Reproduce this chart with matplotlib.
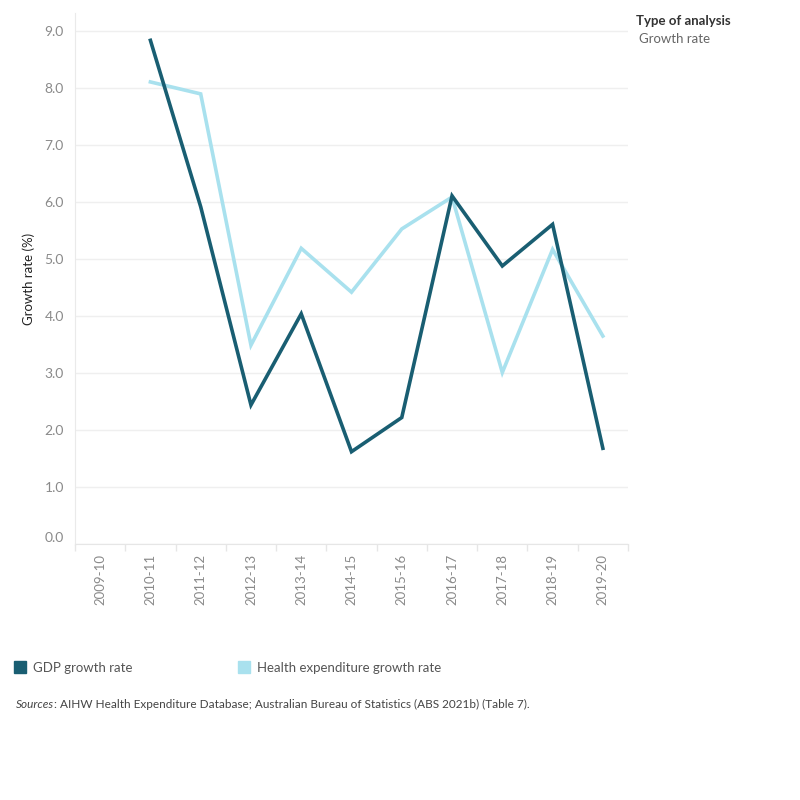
import numpy as np
import matplotlib
matplotlib.use('Agg')
import matplotlib.pyplot as plt
from matplotlib.patches import Rectangle

plt.rcParams['font.family'] = ['Lato', 'DejaVu Sans']

years = ['2009-10', '2010-11', '2011-12', '2012-13', '2013-14', '2014-15',
         '2015-16', '2016-17', '2017-18', '2018-19', '2019-20']
# first year has no growth rate
gdp_growth = [np.nan, 8.84, 5.92, 2.44, 4.04, 1.62, 2.22, 6.11, 4.88, 5.61, 1.68]
health_growth = [np.nan, 8.11, 7.90, 3.49, 5.19, 4.42, 5.53, 6.09, 3.01, 5.17, 3.65]
yticks = [0, 1, 2, 3, 4, 5, 6, 7, 8, 9]

gdp_col = '#195e72'
health_col = '#a9e1ee'
tick_col = '#8a8a8a'

fig = plt.figure(figsize=[8, 8], dpi=100)
ax = fig.add_axes([75/800, 1-544/800, 553/800, 531/800])

x = np.arange(len(years))
ax.plot(x, gdp_growth, color=gdp_col, lw=2.6, solid_joinstyle='miter', zorder=3)
ax.plot(x, health_growth, color=health_col, lw=2.6, solid_joinstyle='miter', zorder=2)

ax.set_xlim(-0.5, len(years) - 0.5)
ax.set_ylim(0, 9.32)

ax.set_yticks(yticks)
ax.set_yticklabels(['%.1f' % v for v in yticks], color=tick_col, fontsize=10)
ax.get_yticklabels()[0].set_va('bottom')
ax.tick_params(axis='y', length=0, pad=8)
ax.yaxis.grid(True, color='#efefef', lw=1)
ax.set_axisbelow(True)

ax.set_xticks(x)
ax.set_xticklabels(years, rotation=90, color=tick_col, fontsize=9.5)
ax.set_xticks(np.arange(-0.5, len(years)), minor=True)
ax.tick_params(axis='x', which='major', length=0, pad=7)
ax.tick_params(axis='x', which='minor', length=5, color='#e6e6e6', width=1)

for s in ['top', 'right']:
    ax.spines[s].set_visible(False)
ax.spines['left'].set_color('#eaeaea')
ax.spines['bottom'].set_color('#e6e6e6')

ax.set_ylabel('Growth rate (%)', fontsize=9.5, color='#222222')
ax.yaxis.set_label_coords(-0.072, 0.5)

# filter header
fig.text(636/800, 1-21/800, 'Type of analysis', fontsize=9.5, color='#333333',
         fontweight='bold', va='center')
fig.text(639/800, 1-39/800, 'Growth rate', fontsize=9.5, color='#666666', va='center')

# legend
fig.add_artist(Rectangle((14/800, 1-673/800), 12/800, 12/800, color=gdp_col,
                         transform=fig.transFigure))
fig.text(33/800, 1-668/800, 'GDP growth rate', fontsize=9.5, color='#555555', va='center')
fig.add_artist(Rectangle((238/800, 1-673/800), 12/800, 12/800, color=health_col,
                         transform=fig.transFigure))
fig.text(257/800, 1-668/800, 'Health expenditure growth rate', fontsize=9.5,
         color='#555555', va='center')

# source
t = fig.text(16/800, 1-704/800, 'Sources', fontsize=8.5, color='#444444',
             style='italic', va='center')
fig.canvas.draw()
bb = t.get_window_extent()
fig.text(bb.x1/800, 1-704/800,
         ': AIHW Health Expenditure Database; Australian Bureau of Statistics (ABS 2021b) (Table 7).',
         fontsize=8.5, color='#444444', va='center')

fig.savefig('out.png', dpi=100)
